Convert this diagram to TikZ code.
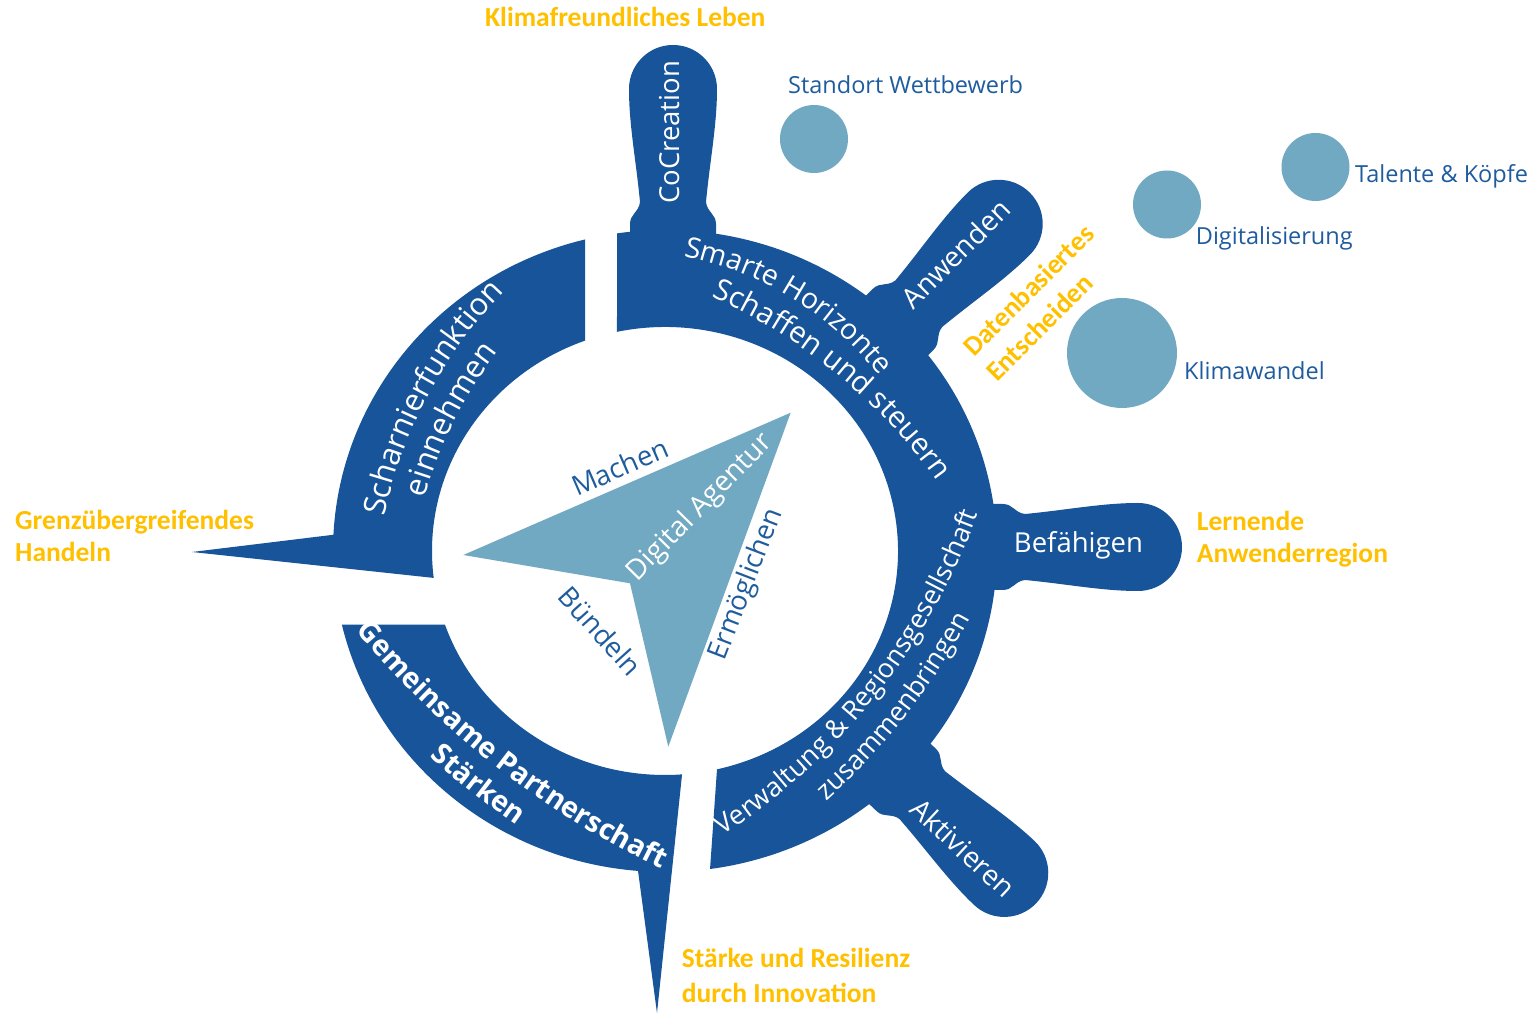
\documentclass[tikz,border=0pt]{standalone}
\usepackage{fontspec}
\setmainfont{Open Sans}
\newfontfamily\calfont{Carlito}
\usetikzlibrary{decorations.text}
\definecolor{ringblue}{RGB}{23,84,153}
\definecolor{lightblue}{RGB}{114,169,194}
\definecolor{labelblue}{RGB}{31,92,158}
\definecolor{goldcol}{RGB}{255,192,0}
\newcommand\fs[1]{\fontsize{#1}{#1}\selectfont}
% text along an arc: cx, cy, R, start angle, end angle, format, text
\newcommand\arctext[7]{%
  \path[decorate, decoration={text along path, text align=center, text={|#6|#7}}]
    ([shift={(#1,#2)}]#4:#3) arc[start angle=#4, end angle=#5, radius=#3];}
% handle: attach x, attach y, direction
\newcommand\myhandle[3]{%
  \begin{scope}[shift={(#1,#2)}, rotate=#3]
    \fill[ringblue] (-25,43) -- (6,43) .. controls (16,43) and (18,34) .. (28,33)
      .. controls (70,37) and (105,44) .. (141,44)
      arc[start angle=90, end angle=-90, radius=44]
      .. controls (105,-44) and (70,-37) .. (28,-33)
      .. controls (18,-34) and (16,-43) .. (6,-43) -- (-25,-43) -- cycle;
  \end{scope}}
\tikzset{
  lbl/.style={text=labelblue, font=\fs{23.5}, inner sep=0pt},
  goldlbl/.style={text=goldcol, font=\calfont\bfseries\fs{27.5}, inner sep=0pt},
  tri/.style={text=labelblue, font=\fs{27.5}, inner sep=0pt, anchor=base},
  hdl/.style={text=white, font=\fs{27.5}, inner sep=0pt, anchor=base},
}
\begin{document}
\begin{tikzpicture}[x=1pt, y=1pt]
\useasboundingbox (-665,-465) rectangle (866,551);
\fill[white] (-665,-465) rectangle (866,551);

% handles
\myhandle{8}{321}{90}
\myhandle{234}{227.5}{45}
\myhandle{332}{4}{0}
\myhandle{237}{-224.9}{-43.5}

% ring segments
\fill[ringblue] (98.31:332 and 321) arc[start angle=98.31, end angle=-82.2, x radius=332, y radius=321]
  -- (-77.1:233 and 224) arc[start angle=-77.1, end angle=101.89, x radius=233, y radius=224] -- cycle;
\fill[ringblue] (103.94:332 and 321) arc[start angle=103.94, end angle=177.1, x radius=332, y radius=321]
  -- (-473,-1) -- (186.9:233 and 224) arc[start angle=186.9, end angle=110.08, x radius=233, y radius=224] -- cycle;
\fill[ringblue] (199.16:233 and 224) -- (193.24:332 and 321)
  arc[start angle=193.24, end angle=265.34, x radius=332, y radius=321]
  -- (-8,-462) -- (274.2:233 and 224) arc[start angle=274.2, end angle=199.16, x radius=233, y radius=224] -- cycle;

% centre arrow
\fill[lightblue] (-201.7,-4) -- (125.7,138.3) -- (3.3,-195.7) -- (-35,-32.3) -- cycle;

% bubbles
\fill[lightblue] (149,412) circle[radius=34];
\fill[lightblue] (650.5,384) circle[radius=34];
\fill[lightblue] (502,346.5) circle[radius=34];
\fill[lightblue] (457,198) circle[radius=55];

% ring texts
\arctext{-45}{-29}{330}{88.55}{28.55}{\color{white}\fs{28.5}}{Smarte Horizonte}
\arctext{-176.8}{-248.3}{550}{72.9}{28.45}{\color{white}\fs{29.5}}{Schaffen und steuern}
\arctext{160.5}{-55.7}{450}{176}{128}{\color{white}\fs{31}}{Scharnierfunktion}
\arctext{160.5}{-55.7}{415}{173.45}{133.45}{\color{white}\fs{31}}{einnehmen}
\arctext{390.3}{502.1}{910}{216.05}{248.05}{\color{white}\bfseries\fs{28.5}}{Gemeinsame Partnerschaft}
\arctext{390.3}{502.1}{945}{223.9}{239.9}{\color{white}\bfseries\fs{28.5}}{Stärken}
\arctext{-297.9}{259.2}{650}{-63.4}{-13.4}{\color{white}\fs{26.7}}{Verwaltung {\&} Regionsgesellschaft}
\arctext{-297.9}{259.2}{685.5}{-54.2}{-22.2}{\color{white}\fs{26.7}}{zusammenbringen}

% handle labels
\node[hdl, rotate=90] (cocreation) at (15,418.7) {CoCreation};
\node[hdl, rotate=45, font=\fs{28}] (anwenden) at (298.1,289.9) {Anwenden};
\node[hdl] (befaehigen) at (413.5,-1.7) {Befähigen};
\node[hdl, rotate=-43, font=\fs{28}] (aktivieren) at (291.1,-304.4) {Aktivieren};

% arrow labels
\node[tri, rotate=23.5] (machen) at (-41,74.5) {Machen};
\node[tri, rotate=69] (ermoeglichen) at (88.6,-36) {Ermöglichen};
\node[tri, rotate=-48] (buendeln) at (-72,-87) {Bündeln};
\node[tri, rotate=45.5, text=white, font=\fs{28}] (agentur) at (40.5,38) {Digital Agentur};

% blue labels
\node[lbl, anchor=base west] (standort) at (123,457.5) {Standort Wettbewerb};
\node[lbl, anchor=base west] (talente) at (690,368.3) {Talente \& Köpfe};
\node[lbl, anchor=base west] (digitalisierung) at (530.7,306) {Digitalisierung};
\node[lbl, anchor=base west] (klimawandel) at (519,171.7) {Klimawandel};

% gold labels
\node[goldlbl, anchor=base west] (klima) at (-180,524.3) {Klimafreundliches Leben};
\node[goldlbl, anchor=base west] (grenz1) at (-650,21) {Grenzübergreifendes};
\node[goldlbl, anchor=base west] (grenz2) at (-650,-10.7) {Handeln};
\node[goldlbl, anchor=base west] (lern1) at (531.7,20.3) {Lernende};
\node[goldlbl, anchor=base west] (lern2) at (531.7,-11.7) {Anwenderregion};
\node[goldlbl, anchor=base west] (staerke1) at (16.7,-416.5) {Stärke und Resilienz};
\node[goldlbl, anchor=base west] (staerke2) at (16.7,-451) {durch Innovation};
\node[goldlbl, anchor=base west, rotate=45] (daten1) at (309,193) {Datenbasiertes};
\node[goldlbl, anchor=base west, rotate=45] (daten2) at (332,168) {Entscheiden};
\end{tikzpicture}
\end{document}
